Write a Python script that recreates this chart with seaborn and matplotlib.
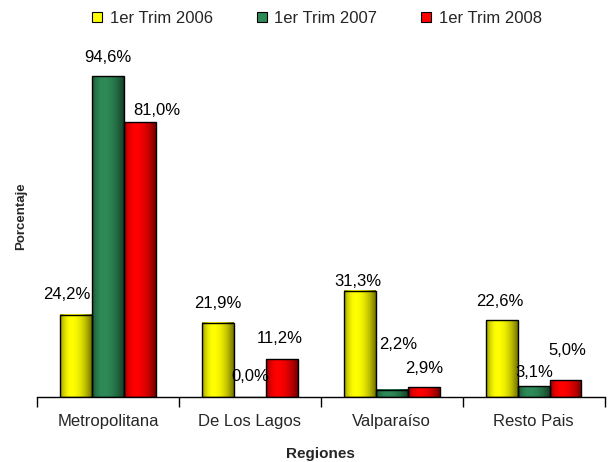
import numpy as np
import pandas as pd
import matplotlib
matplotlib.use("Agg")
import matplotlib.pyplot as plt
from matplotlib.lines import Line2D
from matplotlib.colors import to_rgb
import seaborn as sns

regions = ["Metropolitana", "De Los Lagos", "Valparaíso", "Resto Pais"]
series = ["1er Trim 2006", "1er Trim 2007", "1er Trim 2008"]
v2006 = [24.2, 21.9, 31.3, 22.6]
v2007 = [94.6, 0.0, 2.2, 3.1]
v2008 = [81.0, 11.2, 2.9, 5.0]
colors = ["#FFFF00", "#2E8B57", "#FF0000"]

df = pd.DataFrame({
    "Regiones": regions * 3,
    "Serie": [series[0]] * 4 + [series[1]] * 4 + [series[2]] * 4,
    "Porcentaje": v2006 + v2007 + v2008,
})

sns.set_style("white")
plt.rcParams["font.family"] = ["Liberation Sans", "DejaVu Sans"]

fig = plt.figure(figsize=(6.1, 4.62), dpi=100)
ax = fig.add_axes([0.061, 0.1407, 0.930, 0.7338])

sns.barplot(data=df, x="Regiones", y="Porcentaje", hue="Serie",
            palette=colors, width=0.675, gap=0, edgecolor="black",
            linewidth=1.0, ax=ax, legend=False, saturation=1)

# gradient shading on bars
t = np.linspace(0, 1, 64)
prof = np.where(t < 0.35, 1 - 0.4 * ((0.35 - t) / 0.35) ** 2,
                1 - 0.55 * ((t - 0.35) / 0.65) ** 2)
bars = list(ax.patches)
for i, p in enumerate(bars):
    base = np.array(to_rgb(colors[i // 4]))
    img = np.clip(prof[None, :, None] * base[None, None, :], 0, 1)
    x0, y0 = p.get_x(), p.get_y()
    w, h = p.get_width(), p.get_height()
    if h > 0:
        ax.imshow(img, extent=(x0, x0 + w, y0, y0 + h), aspect="auto",
                  zorder=p.get_zorder() - 0.05, interpolation="bilinear")
    p.set_facecolor("none")

# labels
offsets = [(-9, 20), (0, 19), (-2, 9), (-2, 19),
           (0, 19), (0, 20), (6, 45), (1, 14),
           (17, 12), (-2, 21), (1, 19), (2, 30)]
for p, (dx, dy) in zip(bars, offsets):
    val = p.get_height()
    ax.annotate(f"{val:.1f}%".replace(".", ","),
                xy=(p.get_x() + p.get_width() / 2, val),
                xytext=(dx, dy),
                textcoords="offset pixels", ha="center", va="center",
                fontsize=12, color="black")

ax.set_xlim(-0.5, 3.5)
ax.set_ylim(0, 100)
ax.set_yticks([])
for s in ["left", "right", "top"]:
    ax.spines[s].set_visible(False)
ax.spines["bottom"].set_color("black")
ax.spines["bottom"].set_linewidth(1)
ax.set_xticks(np.arange(-0.5, 4, 1), minor=True)
ax.tick_params(axis="x", which="minor", length=7, width=1, color="black",
               direction="out", bottom=True)
ax.tick_params(axis="x", which="major", length=0, pad=12, labelsize=12)
ax.set_xlabel("Regiones", fontsize=11, fontweight="bold", labelpad=13)
ax.set_ylabel("Porcentaje", fontsize=9.5, fontweight="bold")
ax.yaxis.set_label_coords(-0.018, 0.534)

handles = [Line2D([], [], marker="s", linestyle="none", markersize=7.5,
                  markerfacecolor=c, markeredgecolor="black",
                  markeredgewidth=0.8) for c in colors]
fig.legend(handles, series, loc="center", bbox_to_anchor=(0.519, 0.961),
           ncol=3, frameon=False, fontsize=12, handlelength=0.7,
           handletextpad=0.4, columnspacing=2.6)

fig.savefig("out.png", dpi=100)
